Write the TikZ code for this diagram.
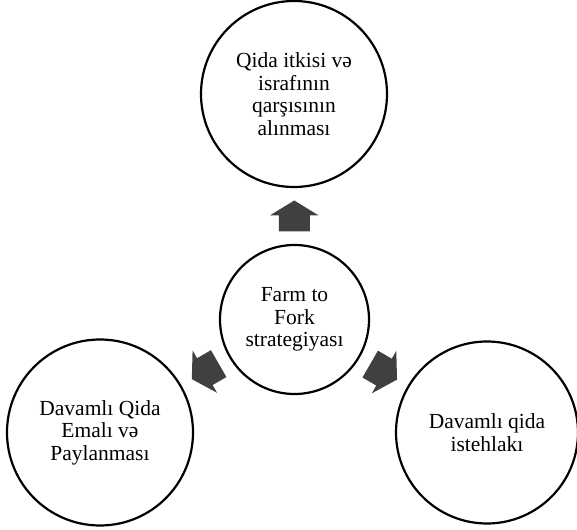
\documentclass[tikz,border=0pt]{standalone}
\usepackage{fontspec}
\setmainfont{Liberation Serif}
\usetikzlibrary{calc}

\definecolor{arrowgray}{RGB}{64,64,64}

\begin{document}
\begin{tikzpicture}[
    x=1bp,y=1bp,
    goal/.style={circle,draw,line width=2.2bp,minimum size=186bp,inner sep=0pt,align=center,font=\fontsize{21.5bp}{22.5bp}\selectfont},
    hubnode/.style={goal,minimum size=149bp},
    blockarrow/.pic={
        \fill[arrowgray] (-15.5,-15.5) -- (0.5,-15.5) -- (0.5,-24.5) -- (15.5,0)
            -- (0.5,24.5) -- (0.5,15.5) -- (-15.5,15.5) -- cycle;
    }
]
\useasboundingbox (0,0) rectangle (577,530);

% Hub
\node[hubnode] (hub) at (294.5,210.5) {Farm to\\Fork\\strategiyası};

% Outer goals
\node[goal] (top) at (294,436) {Qida itkisi və\\israfının\\qarşısının\\alınması};
\node[goal] (left) at (100,97.5) {Davamlı Qida\\Emalı və\\Paylanması};
\node[goal,minimum size=182bp] (right) at (487,97.5) {Davamlı qida\\istehlakı};

% Arrows from hub
\pic[rotate=90] at ($(hub.90)!0.5!(top.270)$) {blockarrow};
\pic[rotate=210] at ($(hub.210)!0.5!(left.30)$) {blockarrow};
\pic[rotate=330] at ($(hub.330)!0.5!(right.150)$) {blockarrow};

\end{tikzpicture}
\end{document}
